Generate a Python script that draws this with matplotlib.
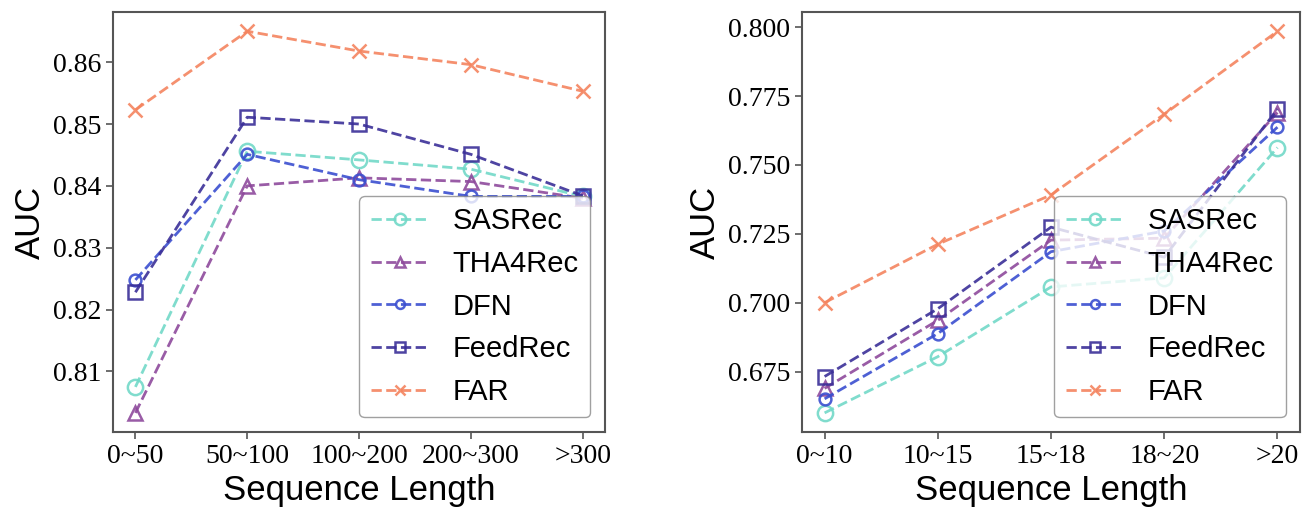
import matplotlib.pyplot as plt

# categories
left_labels = ['0~50', '50~100', '100~200', '200~300', '>300']
right_labels = ['0~10', '10~15', '15~18', '18~20', '>20']

# left panel AUC
left_sasrec = [0.8075, 0.8456, 0.8442, 0.8427, 0.8383]
left_tha4rec = [0.8033, 0.8400, 0.8413, 0.8407, 0.8380]
left_dfn = [0.8248, 0.8451, 0.8410, 0.8383, 0.8383]
left_feedrec = [0.8228, 0.8511, 0.8500, 0.8451, 0.8384]
left_far = [0.8523, 0.8650, 0.8618, 0.8596, 0.8553]

# right panel AUC
right_sasrec = [0.6600, 0.6804, 0.7057, 0.7090, 0.7563]
right_tha4rec = [0.6689, 0.6936, 0.7227, 0.7234, 0.7690]
right_dfn = [0.6651, 0.6888, 0.7185, 0.7260, 0.7637]
right_feedrec = [0.6732, 0.6978, 0.7274, 0.7165, 0.7702]
right_far = [0.7000, 0.7212, 0.7391, 0.7684, 0.7985]

names = ['SASRec', 'THA4Rec', 'DFN', 'FeedRec', 'FAR']
colors = ['#72d9c8', '#8e4a9c', '#3b4fd0', '#3b2f98', '#f4845f']
markers = ['o', '^', 'o', 's', 'x']
msizes = [11, 10, 8.5, 10, 10]

fig = plt.figure(figsize=(13.04, 5.07), dpi=100)
ax1 = fig.add_axes([0.0867, 0.148, 0.3773, 0.828])
ax2 = fig.add_axes([0.615, 0.148, 0.382, 0.828])

panels = [
    (ax1, left_labels, [left_sasrec, left_tha4rec, left_dfn, left_feedrec, left_far]),
    (ax2, right_labels, [right_sasrec, right_tha4rec, right_dfn, right_feedrec, right_far]),
]

for ax, labels, series in panels:
    for vals, name, c, m, ms in zip(series, names, colors, markers, msizes):
        ax.plot(labels, vals, linestyle='--', color=c, marker=m, markersize=ms,
                markerfacecolor='none', markeredgewidth=1.8, linewidth=2,
                label=name, alpha=0.9)
    ax.set_xlabel('Sequence Length', fontsize=25, family='Liberation Sans')
    ax.set_ylabel('AUC', fontsize=25, family='Liberation Sans')
    for t in ax.get_xticklabels() + ax.get_yticklabels():
        t.set_family('Liberation Serif')
        t.set_fontsize(20)
    ax.tick_params(length=5, width=1.2, color='#555555')
    for s in ax.spines.values():
        s.set_color('#555555')
        s.set_linewidth(1.5)
    ax.legend(loc='lower right', prop={'family': 'Liberation Sans', 'size': 21},
              markerscale=0.75, edgecolor='#888888')

ax2.set_yticks([0.675, 0.700, 0.725, 0.750, 0.775, 0.800])
ax2.set_yticklabels(['0.675', '0.700', '0.725', '0.750', '0.775', '0.800'],
                    family='Liberation Serif', fontsize=20)

fig.savefig('out.png', dpi=100)
